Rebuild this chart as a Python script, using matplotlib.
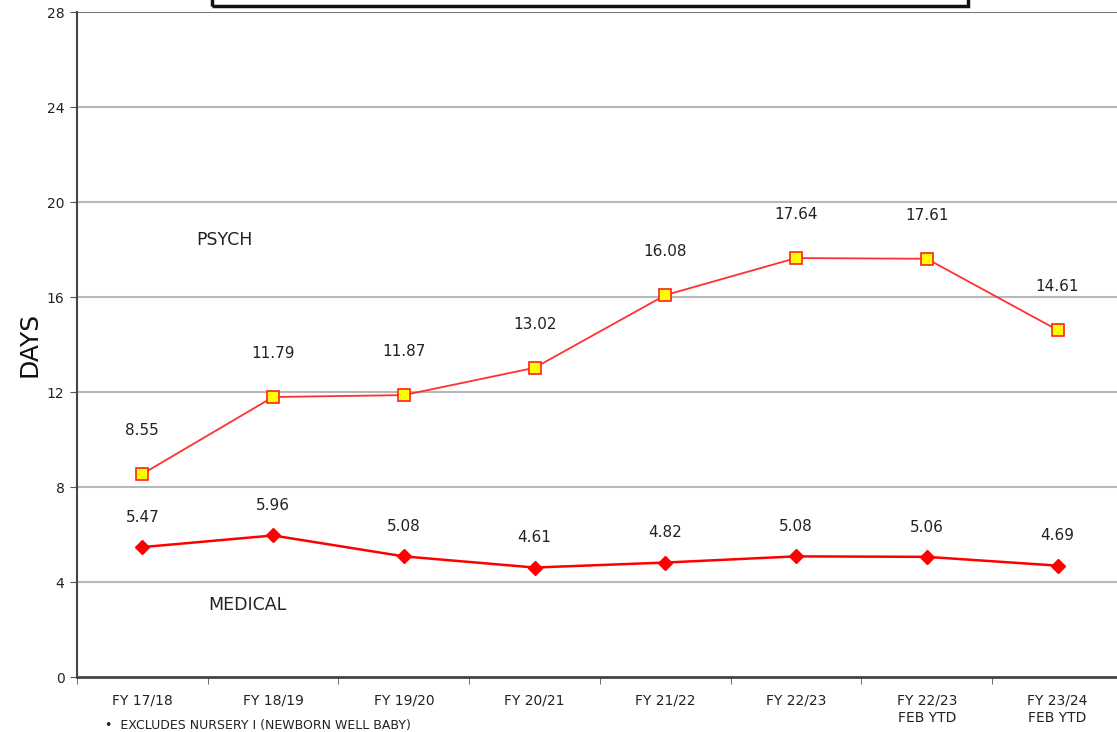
import matplotlib
matplotlib.use("Agg")
import matplotlib.pyplot as plt
from matplotlib.patches import Rectangle
import numpy as np

categories = ["FY 17/18", "FY 18/19", "FY 19/20", "FY 20/21", "FY 21/22", "FY 22/23",
              "FY 22/23\nFEB YTD", "FY 23/24\nFEB YTD"]
psych = [8.55, 11.79, 11.87, 13.02, 16.08, 17.64, 17.61, 14.61]
medical = [5.47, 5.96, 5.08, 4.61, 4.82, 5.08, 5.06, 4.69]
yticks = [0, 4, 8, 12, 16, 20, 24, 28]

plt.rcParams['font.family'] = ['DejaVu Sans']

fig = plt.figure(figsize=(11.17, 7.32), dpi=100)
ax = fig.add_axes([0.0689, 0.0751, 0.9364, 0.9085])

x = np.arange(len(categories))
ax.plot(x, psych, color='#ff3030', lw=1.3, marker='s', ms=9, mfc='#ffff00',
        mec='#ff2020', mew=1.2, zorder=3)
ax.plot(x, medical, color='#ff0000', lw=1.8, marker='D', ms=7, mfc='#ff0000',
        mec='#ff0000', zorder=3)

for xi, v in zip(x, psych):
    ax.annotate(f"{v:.2f}", (xi, v), xytext=(0, 26), textcoords='offset points',
                ha='center', va='bottom', fontsize=11, color='#222222')
for xi, v in zip(x, medical):
    ax.annotate(f"{v:.2f}", (xi, v), xytext=(0, 16), textcoords='offset points',
                ha='center', va='bottom', fontsize=11, color='#222222')

ax.text(0.63, 18.4, "PSYCH", fontsize=12.5, ha='center', va='center', color='#222222')
ax.text(0.80, 3.05, "MEDICAL", fontsize=12.5, ha='center', va='center', color='#222222')

ax.set_xlim(-0.5, len(categories) - 0.5)
ax.set_ylim(0, 28)
ax.set_yticks(yticks)
ax.set_yticklabels([str(t) for t in yticks], fontsize=10, color='#222222')
ax.set_xticks(x)
ax.set_xticklabels(categories, fontsize=10, color='#222222', linespacing=1.3)
ax.set_xticks(np.arange(-0.5, len(categories), 1), minor=True)
ax.tick_params(axis='x', which='major', length=0, pad=12)
ax.tick_params(axis='x', which='minor', length=5, direction='out', color='#555555')
ax.tick_params(axis='y', length=5, direction='out', color='#555555', pad=4)

for t in yticks[1:-1]:
    ax.axhline(t, color='#b8b8b8', lw=1.5, zorder=1)
ax.axhline(28, color='#777777', lw=1.5, zorder=1)

ax.spines['right'].set_visible(False)
ax.spines['top'].set_visible(False)
ax.spines['left'].set_color('#444444')
ax.spines['left'].set_linewidth(1.5)
ax.spines['bottom'].set_color('#444444')
ax.spines['bottom'].set_linewidth(2)

ax.set_ylabel("DAYS", fontsize=18, color='#111111', labelpad=4)

# title box cut off at top
fig.patches.append(Rectangle((212 / 1117, 1 - 6 / 732), (968 - 212) / 1117, 0.1,
                             transform=fig.transFigure, fill=False, ec='#111111',
                             lw=2.5, zorder=5))

fig.text(105 / 1117, 1 - 725 / 732, "\u2022  EXCLUDES NURSERY I (NEWBORN WELL BABY)",
         fontsize=9, ha='left', va='center', color='#222222')

fig.savefig("out.png", dpi=100)
